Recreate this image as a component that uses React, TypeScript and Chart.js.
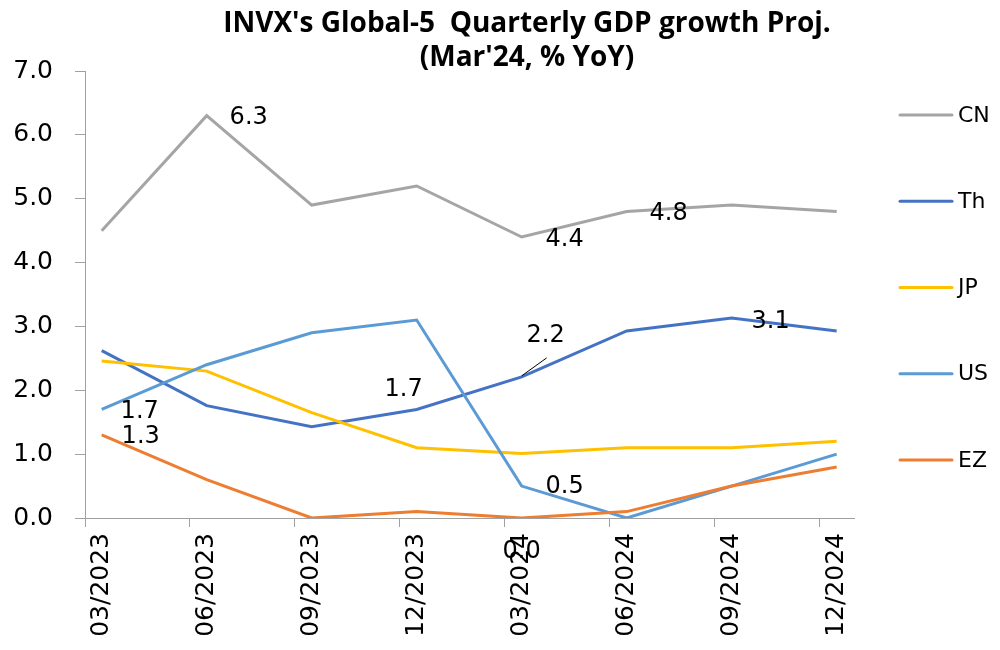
import { useEffect, useRef } from 'react';
import { Chart, registerables } from 'chart.js';

Chart.register(...registerables);

// ---------- data ----------
const categories = ['03/2023', '06/2023', '09/2023', '12/2023', '03/2024', '06/2024', '09/2024', '12/2024'];
const seriesNames = ['CN', 'Th', 'JP', 'US', 'EZ'];
const cnValues = [4.5, 6.3, 4.9, 5.2, 4.4, 4.8, 4.9, 4.8];
const thValues = [2.62, 1.76, 1.43, 1.7, 2.21, 2.93, 3.13, 2.93];
const jpValues = [2.46, 2.3, 1.65, 1.1, 1.01, 1.1, 1.1, 1.2];
const usValues = [1.7, 2.4, 2.9, 3.1, 0.5, 0.0, 0.5, 1.0];
const ezValues = [1.3, 0.6, 0.0, 0.1, 0.0, 0.1, 0.5, 0.8];
const yTickValues = [0, 1, 2, 3, 4, 5, 6, 7];
const titleLines = ["INVX's Global-5  Quarterly GDP growth Proj.", "(Mar'24, % YoY)"];

const seriesValues = [cnValues, thValues, jpValues, usValues, ezValues];

// ---------- styles ----------
const seriesColors = ['#A5A5A5', '#4472C4', '#FFC000', '#5B9BD5', '#ED7D31'];
const axisColor = '#A0A0A0';
const X_MIN = -0.159;
const X_MAX = 7.165;

// which points carry a value label, and where the label sits relative to the point
const pointLabels = [
  { series: 0, index: 1, dx: 42, dy: 2 },
  { series: 0, index: 4, dx: 43, dy: 3 },
  { series: 0, index: 5, dx: 42, dy: 2 },
  { series: 1, index: 3, dx: -13, dy: -20 },
  { series: 1, index: 4, dx: 24, dy: -41, leader: [0, -1, 25, -19] },
  { series: 1, index: 6, dx: 39, dy: 4 },
  { series: 3, index: 0, dx: 38, dy: 2 },
  { series: 3, index: 4, dx: 43, dy: 1 },
  { series: 4, index: 0, dx: 39, dy: 2 },
  { series: 4, index: 4, dx: 0, dy: 34 },
];

const isWhole = (v: number) => Math.abs(v - Math.round(v)) < 1e-6;

const titlePlugin = {
  id: 'customTitle',
  afterDraw(chart: any) {
    const ctx = chart.ctx;
    ctx.save();
    ctx.font = 'bold 28px "Open Sans"';
    ctx.fillStyle = '#000';
    ctx.textAlign = 'center';
    ctx.textBaseline = 'alphabetic';
    ctx.fillText(titleLines[0], 527, 32);
    ctx.fillText(titleLines[1], 527, 66);
    ctx.restore();
  },
};

const legendPlugin = {
  id: 'customLegend',
  afterDraw(chart: any) {
    const ctx = chart.ctx;
    ctx.save();
    chart.data.datasets.forEach((ds: any, k: number) => {
      const y = 115 + k * 86.25;
      ctx.strokeStyle = ds.borderColor;
      ctx.lineWidth = 3;
      ctx.lineCap = 'round';
      ctx.beginPath();
      ctx.moveTo(900, y);
      ctx.lineTo(952, y);
      ctx.stroke();
      ctx.fillStyle = '#000';
      ctx.font = '22px "DejaVu Sans"';
      ctx.textAlign = 'left';
      ctx.textBaseline = 'middle';
      ctx.fillText(ds.label, 958, y + 1);
    });
    ctx.restore();
  },
};

const valueLabelPlugin = {
  id: 'valueLabels',
  afterDatasetsDraw(chart: any) {
    const ctx = chart.ctx;
    ctx.save();
    ctx.font = '24px "DejaVu Sans"';
    ctx.fillStyle = '#000';
    ctx.textAlign = 'center';
    ctx.textBaseline = 'middle';
    for (const lp of pointLabels) {
      const el = chart.getDatasetMeta(lp.series).data[lp.index];
      if (!el) continue;
      const v = seriesValues[lp.series][lp.index];
      if (lp.leader) {
        ctx.beginPath();
        ctx.strokeStyle = '#000';
        ctx.lineWidth = 1;
        ctx.moveTo(el.x + lp.leader[0], el.y + lp.leader[1]);
        ctx.lineTo(el.x + lp.leader[2], el.y + lp.leader[3]);
        ctx.stroke();
      }
      ctx.fillText(v.toFixed(1), el.x + lp.dx, el.y + lp.dy);
    }
    ctx.restore();
  },
};

export default function App() {
  const canvasRef = useRef<HTMLCanvasElement | null>(null);

  useEffect(() => {
    const canvas = canvasRef.current;
    if (!canvas) return;

    const datasets = seriesNames.map((name, k) => ({
      label: name,
      data: seriesValues[k].map((v, i) => ({ x: i, y: v })),
      borderColor: seriesColors[k],
      backgroundColor: seriesColors[k],
      borderWidth: 3,
      pointRadius: 0,
      pointHoverRadius: 0,
      tension: 0,
      order: seriesNames.length - 1 - k,
    }));

    const chart = new Chart(canvas, {
      type: 'line',
      data: { datasets },
      options: {
        animation: false,
        responsive: true,
        maintainAspectRatio: false,
        devicePixelRatio: 1,
        layout: { padding: { top: 71, right: 146, bottom: 0, left: 0 } },
        plugins: {
          legend: { display: false },
          title: { display: false },
          tooltip: { enabled: false },
        },
        scales: {
          x: {
            type: 'linear',
            min: X_MIN,
            max: X_MAX,
            afterBuildTicks: (scale: any) => {
              const marks = categories.map((_, i) => ({ value: i + X_MIN }));
              const labels = categories.map((_, i) => ({ value: i }));
              scale.ticks = [...marks, ...labels].sort((a, b) => a.value - b.value);
            },
            afterFit: (scale: any) => {
              scale.height = 132;
            },
            ticks: {
              autoSkip: false,
              minRotation: 90,
              maxRotation: 90,
              padding: 6,
              color: '#000',
              font: { family: '"DejaVu Sans"', size: 25 },
              callback: (value: any) => {
                const v = Number(value);
                return isWhole(v) ? categories[Math.round(v)] : '';
              },
            },
            grid: {
              drawOnChartArea: false,
              drawTicks: true,
              tickLength: 9,
              color: axisColor,
              tickColor: (ctx: any) =>
                ctx.tick && isWhole(ctx.tick.value) ? 'rgba(0,0,0,0)' : axisColor,
            },
            border: { display: true, color: axisColor, width: 1 },
          },
          y: {
            type: 'linear',
            min: 0,
            max: 7,
            afterBuildTicks: (scale: any) => {
              scale.ticks = yTickValues.map((v) => ({ value: v }));
            },
            afterFit: (scale: any) => {
              scale.width = 85;
            },
            ticks: {
              padding: 22,
              color: '#000',
              font: { family: '"DejaVu Sans"', size: 25 },
              callback: (value: any) => Number(value).toFixed(1),
            },
            grid: {
              drawOnChartArea: false,
              drawTicks: true,
              tickLength: 10,
              color: axisColor,
              tickColor: axisColor,
            },
            border: { display: true, color: axisColor, width: 1 },
          },
        },
      },
      plugins: [valueLabelPlugin, titlePlugin, legendPlugin],
    });

    return () => {
      chart.destroy();
    };
  }, []);

  return (
    <div style={{ position: 'absolute', left: 0, top: 0, width: 1000, height: 650, background: '#fff' }}>
      <canvas ref={canvasRef} />
    </div>
  );
}
